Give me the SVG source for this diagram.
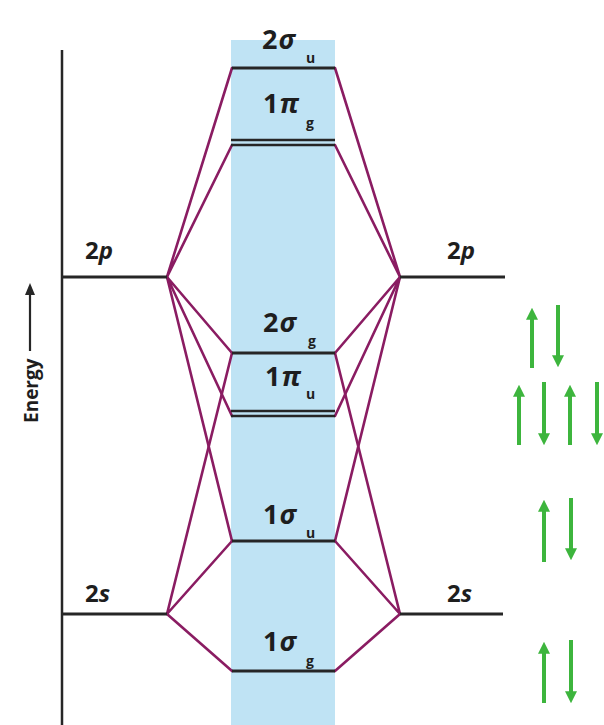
<svg xmlns="http://www.w3.org/2000/svg" width="604" height="725" viewBox="0 0 604 725">
<defs>
<style>
.lvl{stroke:#262626;stroke-width:2.8;fill:none}
.con{stroke:#8a1c62;stroke-width:2.6;fill:none;stroke-linecap:round}
.lab{font-family:"Open Sans","Liberation Sans",sans-serif;font-weight:bold;font-size:27px;fill:#1e1e1e;letter-spacing:1px}
.ao{font-family:"Open Sans","Liberation Sans",sans-serif;font-weight:bold;font-size:24px;fill:#1e1e1e}
.sub{font-family:"Open Sans","Liberation Sans",sans-serif;font-weight:bold;font-size:14px;fill:#1e1e1e}
.it{font-style:italic}
.spin{stroke:#3db53d;stroke-width:4;fill:none}
</style>
<marker id="gh" viewBox="0 0 10 10" refX="4" refY="5" markerWidth="3" markerHeight="3" orient="auto" markerUnits="strokeWidth">
<path d="M0,0 L10,5 L0,10 z" fill="#3db53d"/>
</marker>
</defs>
<rect width="604" height="725" fill="#ffffff"/>
<rect id="band" x="231" y="40" width="104" height="685" fill="#bfe3f4"/>

<g id="axis">
<line x1="62" y1="50" x2="62" y2="725" stroke="#262626" stroke-width="2.5"/>
<text class="ao" transform="translate(38,423) rotate(-90)" style="font-size:19px">Energy</text>
<line x1="30" y1="351" x2="30" y2="292" stroke="#262626" stroke-width="2.2"/>
<polygon points="30,283 25,295 35,295" fill="#262626"/>
</g>

<g id="connectors">
<g class="con">
<polyline points="232,68 167,277 232,145"/>
<polyline points="232,353 167,277 232,416"/>
<line x1="167" y1="277" x2="232" y2="541"/>
<polyline points="232,353 167,614 232,541"/>
<line x1="167" y1="614" x2="232" y2="671"/>
<polyline points="335,68 400,277 335,145"/>
<polyline points="335,353 400,277 335,416"/>
<line x1="400" y1="277" x2="335" y2="541"/>
<polyline points="335,353 400,614 335,541"/>
<line x1="400" y1="614" x2="335" y2="671"/>
</g>
</g>

<g id="ao-2p-left">
<line class="lvl" x1="62" y1="277" x2="167" y2="277"/>
<text class="ao" x="85" y="259">2<tspan class="it">p</tspan></text>
</g>
<g id="ao-2p-right">
<line class="lvl" x1="400" y1="277" x2="505" y2="277"/>
<text class="ao" x="447" y="259">2<tspan class="it">p</tspan></text>
</g>
<g id="ao-2s-left">
<line class="lvl" x1="62" y1="614" x2="167" y2="614"/>
<text class="ao" x="85" y="602">2<tspan class="it">s</tspan></text>
</g>
<g id="ao-2s-right">
<line class="lvl" x1="400" y1="614" x2="503" y2="614"/>
<text class="ao" x="447" y="602">2<tspan class="it">s</tspan></text>
</g>

<g id="mo-2su">
<line class="lvl" x1="232" y1="68" x2="335" y2="68"/>
<text class="lab" x="262" y="49">2<tspan class="it">σ</tspan></text>
<text class="sub" x="306" y="63">u</text>
</g>
<g id="mo-1pg">
<line class="lvl" x1="231" y1="140" x2="335" y2="140" style="stroke-width:2.4"/>
<line class="lvl" x1="231" y1="145" x2="335" y2="145" style="stroke-width:2.4"/>
<text class="lab" x="263" y="113">1<tspan class="it">π</tspan></text>
<text class="sub" x="306" y="128">g</text>
</g>
<g id="mo-2sg">
<line class="lvl" x1="232" y1="353" x2="335" y2="353"/>
<text class="lab" x="263" y="332">2<tspan class="it">σ</tspan></text>
<text class="sub" x="308" y="346">g</text>
</g>
<g id="mo-1pu">
<line class="lvl" x1="231" y1="411" x2="335" y2="411" style="stroke-width:2.4"/>
<line class="lvl" x1="231" y1="416" x2="335" y2="416" style="stroke-width:2.4"/>
<text class="lab" x="265" y="386">1<tspan class="it">π</tspan></text>
<text class="sub" x="306" y="399">u</text>
</g>
<g id="mo-1su">
<line class="lvl" x1="232" y1="541" x2="335" y2="541"/>
<text class="lab" x="263" y="524">1<tspan class="it">σ</tspan></text>
<text class="sub" x="306" y="538">u</text>
</g>
<g id="mo-1sg">
<line class="lvl" x1="232" y1="671" x2="335" y2="671"/>
<text class="lab" x="263" y="651">1<tspan class="it">σ</tspan></text>
<text class="sub" x="306" y="666">g</text>
</g>

<g id="electrons">
<line class="spin" x1="532" y1="368" x2="532" y2="315" marker-end="url(#gh)"/>
<line class="spin" x1="558" y1="305" x2="558" y2="360" marker-end="url(#gh)"/>
<line class="spin" x1="519" y1="445" x2="519" y2="392" marker-end="url(#gh)"/>
<line class="spin" x1="544" y1="382" x2="544" y2="438" marker-end="url(#gh)"/>
<line class="spin" x1="570" y1="445" x2="570" y2="392" marker-end="url(#gh)"/>
<line class="spin" x1="597" y1="382" x2="597" y2="438" marker-end="url(#gh)"/>
<line class="spin" x1="544" y1="562" x2="544" y2="507" marker-end="url(#gh)"/>
<line class="spin" x1="571" y1="498" x2="571" y2="553" marker-end="url(#gh)"/>
<line class="spin" x1="544" y1="703" x2="544" y2="649" marker-end="url(#gh)"/>
<line class="spin" x1="571" y1="640" x2="571" y2="696" marker-end="url(#gh)"/>
</g>
</svg>
